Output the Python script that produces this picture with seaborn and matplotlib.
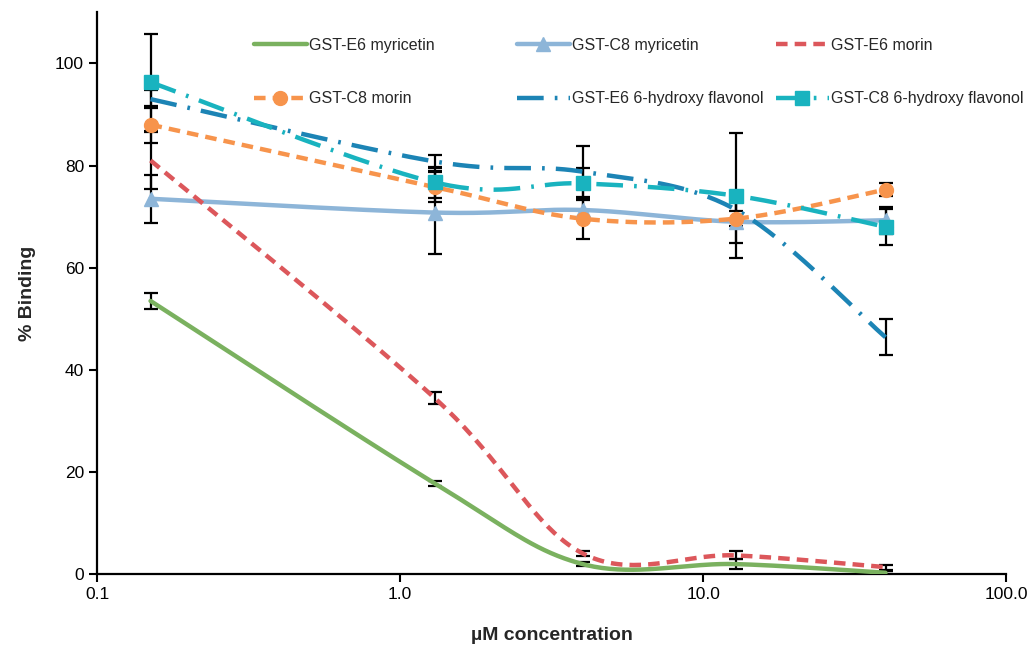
import numpy as np
import pandas as pd
import matplotlib
matplotlib.use("Agg")
import matplotlib.pyplot as plt
from matplotlib.lines import Line2D
import seaborn as sns

sns.set_theme(style="white")
plt.rcParams['font.family'] = ['Liberation Sans Narrow', 'Liberation Sans', 'DejaVu Sans']

# ---- data ----
conc = [0.15, 1.3, 4.0, 12.8, 40.0]
series_names = ["GST-E6 myricetin", "GST-C8 myricetin", "GST-E6 morin",
                "GST-C8 morin", "GST-E6 6-hydroxy flavonol", "GST-C8 6-hydroxy flavonol"]
e6_myricetin = [53.5, 17.8, 2.0, 2.0, 0.3]
e6_myricetin_err = [1.5, 0.5, 0.4, 0.9, 0.3]
c8_myricetin = [73.5, 70.8, 71.3, 69.0, 69.3]
c8_myricetin_err = [4.7, 8.1, 2.0, 4.2, 2.6]
e6_morin = [81.0, 34.5, 4.1, 3.7, 1.4]
e6_morin_err = [5.5, 1.2, 0.5, 0.8, 0.5]
c8_morin = [88.0, 75.8, 69.6, 69.6, 75.3]
c8_morin_err = [3.6, 3.0, 4.0, 1.5, 1.3]
e6_hydroxy = [93.0, 80.8, 78.8, 71.4, 46.4]
e6_hydroxy_err = [1.8, 1.3, 5.0, 2.0, 3.5]
c8_hydroxy = [96.3, 76.7, 76.5, 74.1, 68.0]
c8_hydroxy_err = [9.5, 3.0, 3.0, 12.2, 3.5]

values = [e6_myricetin, c8_myricetin, e6_morin, c8_morin, e6_hydroxy, c8_hydroxy]
errors = [e6_myricetin_err, c8_myricetin_err, e6_morin_err, c8_morin_err,
          e6_hydroxy_err, c8_hydroxy_err]

colors = ["#7ab15f", "#8db5d8", "#dc575b", "#f7944c", "#1c84b5", "#19b3bf"]
styles = ["-", "-", (0, (2.6, 1.6)), (0, (2.6, 1.6)), (0, (6, 2.5, 0.6, 2.5)), (0, (6, 2.5, 0.6, 2.5))]
markers = [None, "^", None, "o", None, "s"]

XS, YS = 303.0, 5.1  # screen-like scaling used for Excel-style smoothing


def smooth(xs, ys, n=40):
    px = (np.log10(np.asarray(xs)) + 1) * XS
    py = np.asarray(ys) * YS
    P = np.column_stack([px, py])
    pts = []
    t = np.linspace(0, 1, n)[:, None]
    for i in range(len(P) - 1):
        p0 = P[i - 1] if i > 0 else P[i]
        p3 = P[i + 2] if i + 2 < len(P) else P[i + 1]
        c1 = P[i] + (P[i + 1] - p0) / 6
        c2 = P[i + 1] - (p3 - P[i]) / 6
        seg = ((1 - t) ** 3) * P[i] + 3 * ((1 - t) ** 2) * t * c1 + 3 * (1 - t) * t ** 2 * c2 + t ** 3 * P[i + 1]
        pts.append(seg if i == 0 else seg[1:])
    S = np.vstack(pts)
    return 10 ** (S[:, 0] / XS - 1), S[:, 1] / YS


fig, ax = plt.subplots(figsize=(10.34, 6.46), dpi=100)
fig.subplots_adjust(left=0.094, right=0.973, bottom=0.111, top=0.981)

# error bars first (black)
for v, e in zip(values, errors):
    ax.errorbar(conc, v, yerr=e, fmt="none", ecolor="black", elinewidth=1.6,
                capsize=5, capthick=1.6, zorder=2)

handles = []
for name, v, c, ls, m in zip(series_names, values, colors, styles, markers):
    sx, sy = smooth(conc, v)
    df = pd.DataFrame({"x": sx, "y": sy})
    sns.lineplot(data=df, x="x", y="y", ax=ax, color=c, linewidth=3.2,
                 linestyle=ls, sort=False, estimator=None, zorder=3)
    if m is not None:
        ax.plot(conc, v, linestyle="none", marker=m, color=c, markersize=10, zorder=4)
    handles.append(Line2D([], [], color=c, linewidth=3.2, linestyle=ls, marker=m,
                          markersize=10, label=name))

ax.set_xscale("log")
ax.set_xlim(0.1, 100)
ax.set_ylim(0, 110)
ax.set_xticks([0.1, 1, 10, 100])
ax.set_xticklabels(["0.1", "1.0", "10.0", "100.0"])
ax.xaxis.set_minor_locator(matplotlib.ticker.NullLocator())
ax.set_yticks([0, 20, 40, 60, 80, 100])
ax.tick_params(axis="both", which="major", direction="out", length=6, width=1.5,
               labelsize=12.5, colors="black", bottom=True, left=True)
for sp in ["top", "right"]:
    ax.spines[sp].set_visible(False)
for sp in ["left", "bottom"]:
    ax.spines[sp].set_color("black")
    ax.spines[sp].set_linewidth(1.6)

ax.set_xlabel("µM concentration", fontsize=14, fontweight="bold", labelpad=18)
ax.set_ylabel("% Binding", fontsize=14, fontweight="bold", labelpad=14)

# legend: 2 rows x 3 columns, filled row-wise, each column placed like the original
col_x = [254, 517, 776]
legs = []
for j, x0 in enumerate(col_x):
    hs = [handles[j], handles[j + 3]]
    lg = ax.legend(handles=hs, loc="upper left",
                   bbox_to_anchor=(x0 / 1034, 1 - 38 / 646), bbox_transform=fig.transFigure,
                   frameon=False, fontsize=11.5, handlelength=3.3, handletextpad=0.15,
                   labelspacing=2.4, borderpad=0, borderaxespad=0)
    legs.append(lg)
for lg in legs[:-1]:
    ax.add_artist(lg)

fig.savefig("out.png", dpi=100)
